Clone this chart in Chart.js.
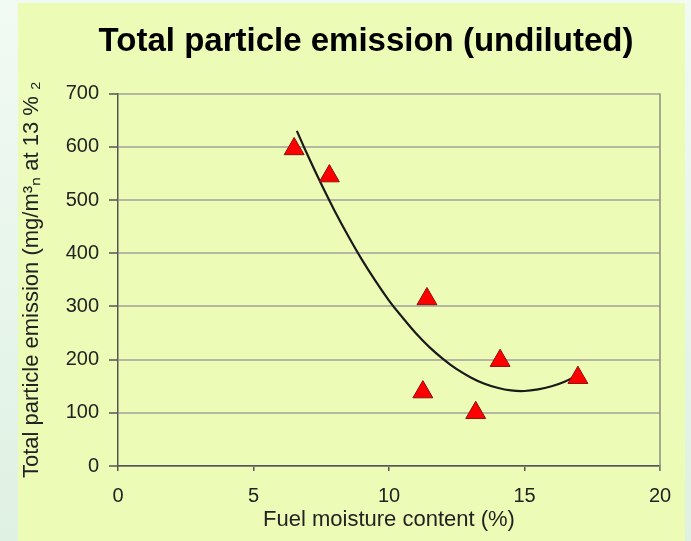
<!DOCTYPE html>
<html>
<head>
<meta charset="utf-8">
<script src="https://cdn.jsdelivr.net/npm/chart.js@4/dist/chart.umd.min.js"></script>
<style>
  html, body { margin: 0; padding: 0; }
  body { width: 691px; height: 541px; overflow: hidden;
         background: linear-gradient(180deg, #f1faf3 0%, #dff1e3 100%); position: relative; }
  #panel { position: absolute; left: 18px; top: 3px; width: 667px; height: 538px; background: #ecfcb6; }
  #wrap { position: absolute; left: 0; top: 0; width: 691px; height: 541px; }
</style>
</head>
<body>
<div id="panel"></div>
<div id="wrap"><canvas id="c" width="691" height="541"></canvas></div>
<script>
// Measured points
const moisture = [6.5, 7.8, 11.4, 11.25, 13.2, 14.1, 16.97];
const emission = [596, 545, 314, 139, 100, 198, 166];
// Trend line
const trendX = [6.6, 7, 7.5, 8, 8.5, 9, 9.5, 10, 10.5, 11, 11.5, 12, 12.5, 13, 13.5, 14, 14.5, 15, 15.5, 16, 16.5, 17];
const trendY = [630, 584, 530, 479, 432, 388, 348, 311, 279, 249, 223, 201, 182, 167, 155, 147, 142, 141, 144, 150, 159, 172];
const xTicks = [0, 5, 10, 15, 20];
const yTicks = [0, 100, 200, 300, 400, 500, 600, 700];

const FONT = '"Liberation Sans", Arial, sans-serif';

const titleShift = {
  id: 'titleShift',
  afterLayout(chart) {
    const t = chart.titleBlock;
    if (t) { t.left += 28; t.right += 28; }
  }
};
const plotBorder = {
  id: 'plotBorder',
  afterDatasetsDraw(chart) {
    const a = chart.chartArea, ctx = chart.ctx;
    ctx.save();
    ctx.strokeStyle = '#8c8c84';
    ctx.lineWidth = 1.5;
    ctx.beginPath();
    ctx.moveTo(a.right, a.top);
    ctx.lineTo(a.right, a.bottom + 5);
    ctx.stroke();
    ctx.restore();
  }
};

new Chart(document.getElementById('c'), {
  type: 'scatter',
  data: {
    datasets: [
      {
        label: 'Trend',
        type: 'line',
        data: trendX.map((x, i) => ({ x: x, y: trendY[i] })),
        borderColor: '#1a1a1a',
        borderWidth: 2.2,
        pointRadius: 0,
        tension: 0.4,
        fill: false,
        order: 2
      },
      {
        label: 'Measured',
        data: moisture.map((x, i) => ({ x: x, y: emission[i] })),
        pointStyle: 'triangle',
        pointRadius: 11.5,
        pointHoverRadius: 11.5,
        backgroundColor: '#ff0000',
        borderColor: '#8a1010',
        borderWidth: 1,
        order: 1
      }
    ]
  },
  options: {
    responsive: false,
    animation: false,
    events: [],
    layout: { padding: { left: 16, right: 31, top: 0, bottom: 8 } },
    plugins: {
      legend: { display: false },
      tooltip: { enabled: false },
      title: {
        display: true,
        text: 'Total particle emission (undiluted)',
        color: '#000000',
        font: { family: FONT, size: 33, weight: 'bold' },
        padding: { top: 22, bottom: 32 }
      }
    },
    scales: {
      x: {
        type: 'linear',
        min: 0, max: 20,
        afterBuildTicks(s) { s.ticks = xTicks.map(v => ({ value: v })); },
        afterFit(s) { s.height = 67; },
        ticks: { color: '#222', font: { family: FONT, size: 20 }, padding: 13 },
        grid: { display: true, drawOnChartArea: false, drawTicks: true, tickLength: 5, color: '#555', lineWidth: 1.5 },
        border: { display: true, color: '#555', width: 1.5 },
        title: {
          display: true, text: 'Fuel moisture content (%)', color: '#222',
          font: { family: FONT, size: 22 }, padding: { top: 0, bottom: 0 }
        }
      },
      y: {
        type: 'linear',
        min: 0, max: 700,
        afterBuildTicks(s) { s.ticks = yTicks.map(v => ({ value: v })); },
        afterFit(s) { s.width = 102; },
        ticks: { color: '#222', font: { family: FONT, size: 20 }, padding: 10 },
        grid: {
          display: true, drawOnChartArea: true, drawTicks: true, tickLength: 9,
          color: '#b4b8a0', lineWidth: 2,
          tickColor: '#555', tickWidth: 1.5
        },
        border: { display: true, color: '#555', width: 1.5 },
        title: {
          display: true, text: 'Total particle emission (mg/m³ₙ at 13 % ₂', color: '#222',
          font: { family: FONT, size: 22 }, padding: { top: 3, bottom: 0 }
        }
      }
    }
  },
  plugins: [titleShift, plotBorder]
});
</script>
</body>
</html>
